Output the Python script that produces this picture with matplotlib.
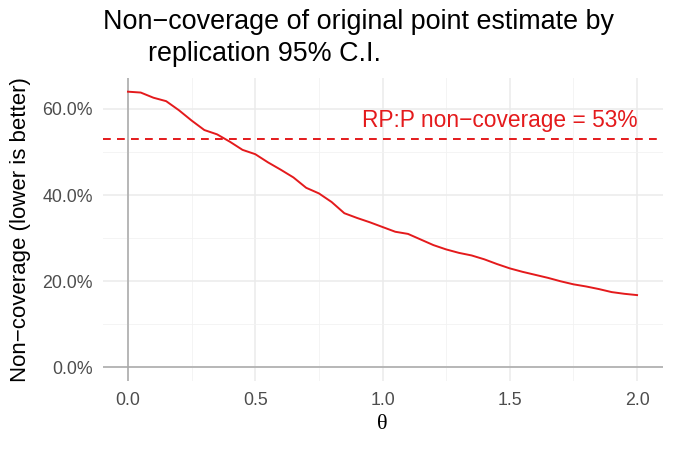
import matplotlib
matplotlib.use("Agg")
import matplotlib.pyplot as plt
from matplotlib.ticker import MultipleLocator, FuncFormatter

# non-coverage (%) of the original point estimate vs theta
theta = [0.00, 0.05, 0.10, 0.15, 0.20, 0.25, 0.30, 0.35, 0.40, 0.45,
         0.50, 0.55, 0.60, 0.65, 0.70, 0.75, 0.80, 0.85, 0.90, 0.95,
         1.00, 1.05, 1.10, 1.15, 1.20, 1.25, 1.30, 1.35, 1.40, 1.45,
         1.50, 1.55, 1.60, 1.65, 1.70, 1.75, 1.80, 1.85, 1.90, 1.95, 2.00]
noncov = [64.0, 63.8, 62.6, 61.8, 59.7, 57.3, 55.1, 54.1, 52.4, 50.5,
          49.5, 47.6, 45.9, 44.1, 41.7, 40.4, 38.4, 35.8, 34.7, 33.7,
          32.6, 31.5, 31.0, 29.7, 28.4, 27.4, 26.6, 26.0, 25.1, 24.0,
          23.0, 22.2, 21.5, 20.8, 20.0, 19.3, 18.8, 18.2, 17.5, 17.1, 16.8]
rpp = 53.0
rpp_label = "RP:P non\u2212coverage = 53%"
title1 = "Non\u2212coverage of original point estimate by"
title2 = "replication 95% C.I."

RED = "#E41A1C"
plt.rcParams["font.family"] = ["Liberation Sans", "DejaVu Sans"]

fig = plt.figure(figsize=(6.75, 4.5), dpi=100)
ax = fig.add_axes([0.1519, 0.1527, 0.8296, 0.6742])

ax.set_xlim(-0.1, 2.1)
ax.set_ylim(-3.2, 67.2)
ax.xaxis.set_major_locator(MultipleLocator(0.5))
ax.xaxis.set_minor_locator(MultipleLocator(0.25))
ax.yaxis.set_major_locator(MultipleLocator(20))
ax.yaxis.set_minor_locator(MultipleLocator(10))
ax.yaxis.set_major_formatter(FuncFormatter(lambda v, p: f"{v:.1f}%"))
ax.xaxis.set_major_formatter(FuncFormatter(lambda v, p: f"{v:.1f}"))
ax.grid(which="major", color="#EBEBEB", lw=1.1)
ax.grid(which="minor", color="#F2F2F2", lw=0.6)
ax.set_axisbelow(True)
for s in ax.spines.values():
    s.set_visible(False)
ax.tick_params(which="both", length=0, labelsize=12.8, labelcolor="#4D4D4D")
ax.tick_params(axis="x", pad=8)
ax.tick_params(axis="y", pad=7)

ax.axvline(0, color="#A8A8A8", lw=1.1)
ax.axhline(0, color="#A8A8A8", lw=1.1)
ax.axhline(rpp, color=RED, lw=1.4, ls=(0, (4, 3.2)))
ax.plot(theta, noncov, color=RED, lw=1.4)
ax.annotate(rpp_label, (2.0, rpp), xytext=(0, 5), textcoords="offset points",
            ha="right", va="bottom", color=RED, fontsize=16.4)

ax.set_xlabel("\u03b8", fontsize=16, family=["Liberation Serif", "DejaVu Serif"])
ax.set_ylabel("Non\u2212coverage (lower is better)", fontsize=16)
ax.xaxis.set_label_coords(0.5, -(425 - 381.3) / 303.4, transform=ax.transAxes)
ax.xaxis.label.set_va("center")
ax.yaxis.label.set_va("center")
ax.yaxis.set_label_coords(-(102.5 - 20) / 560, 0.5)

fig.text(103 / 675, 1 - 22 / 450, title1, fontsize=19.4, ha="left", va="center")
fig.text(148 / 675, 1 - 54 / 450, title2, fontsize=19.4, ha="left", va="center")

fig.savefig("out.png", dpi=100)
